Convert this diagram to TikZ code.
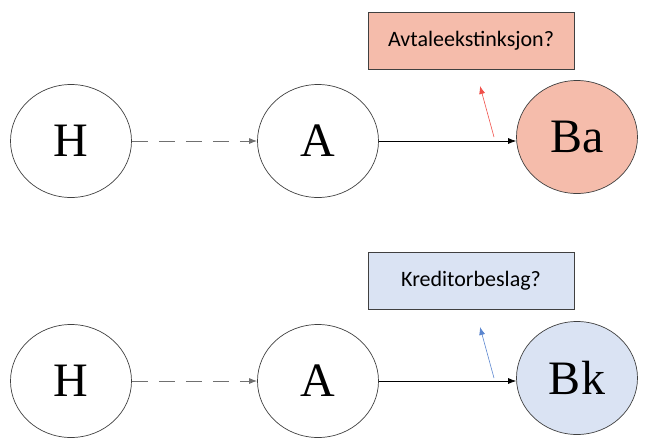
\documentclass[tikz,border=0pt]{standalone}
\usepackage{fontspec}
\setmainfont{Liberation Serif}
\newfontfamily\boxfont{Carlito}
\usetikzlibrary{shapes.geometric,arrows.meta}
\definecolor{pinkfill}{HTML}{F5BCAB}
\definecolor{bluefill}{HTML}{DAE3F3}
\definecolor{redarrow}{HTML}{F0504A}
\definecolor{bluearrow}{HTML}{5B86CF}
\definecolor{linegray}{HTML}{404040}

\tikzset{
  party/.style={ellipse, draw=linegray, line width=0.7pt, minimum width=121pt,
    minimum height=113pt, inner sep=0pt, font=\fontsize{48}{50}\selectfont},
  question/.style={rectangle, draw=linegray, line width=0.7pt, minimum width=206pt,
    minimum height=57pt, inner sep=0pt, font=\boxfont\fontsize{22}{24}\selectfont},
  link/.style={-{Latex[length=8pt,width=6pt]}, line width=0.7pt},
}

\begin{document}
\begin{tikzpicture}[x=1pt, y=-1pt]
    \useasboundingbox (0,0) rectangle (670,437);
    % first row
    \node[party] (H1) at (71,141) {H};
    \node[party] (A1) at (318,141) {A};
    \node[party, fill=pinkfill] (Ba) at (577,137) {Ba};
    \node[question, fill=pinkfill] (avtale) at (471,40.5) {Avtaleekstinksjon?};
    \draw[link, draw=linegray!75, line width=0.9pt, dash pattern=on 16pt off 11pt] (H1) -- (A1);
    \draw[link] (A1.east) -- (A1.east -| Ba.west);
    \coordinate (r1) at (494,137);
    \coordinate (r2) at (480,86);
    \draw[link, redarrow, line width=0.6pt] (r1) -- (r2);
    % second row
    \node[party] (H2) at (71,381) {H};
    \node[party] (A2) at (318,381) {A};
    \node[party, fill=bluefill] (Bk) at (577,378) {Bk};
    \node[question, fill=bluefill] (kreditor) at (471,280.5) {Kreditorbeslag?};
    \draw[link, draw=linegray!75, line width=0.9pt, dash pattern=on 16pt off 11pt] (H2) -- (A2);
    \draw[link] (A2.east) -- (A2.east -| Bk.west);
    \coordinate (b1) at (494,378);
    \coordinate (b2) at (480,327);
    \draw[link, bluearrow, line width=0.6pt] (b1) -- (b2);
\end{tikzpicture}
\end{document}
